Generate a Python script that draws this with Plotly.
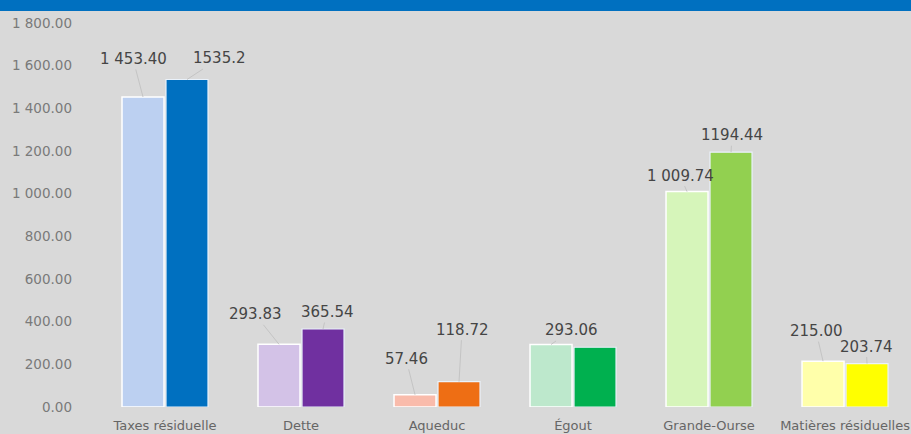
import plotly.graph_objects as go

categories = ["Taxes résiduelle", "Dette", "Aqueduc", "Égout", "Grande-Ourse", "Matières résiduelles"]
values_a = [1453.40, 293.83, 57.46, 293.06, 1009.74, 215.00]
values_b = [1535.20, 365.54, 118.72, 280.00, 1194.44, 203.74]
labels_a = ["1 453.40", "293.83", "57.46", "293.06", "1 009.74", "215.00"]
labels_b = ["1535.2", "365.54", "118.72", "", "1194.44", "203.74"]
y_ticks = [0, 200, 400, 600, 800, 1000, 1200, 1400, 1600, 1800]

colors_a = ["#BCD0F1", "#D3C2E7", "#F9BBAB", "#BDE8CC", "#D6F5BA", "#FFFFAA"]
colors_b = ["#0070C0", "#7030A0", "#EE6E14", "#00B04F", "#92D050", "#FFFF00"]

# label offsets (pixels) from the bar top: (ax, ay)
off_a = [(-10, -38), (-24, -30), (-9, -36), (20, -14), (-7, -16), (-7, -30)]
off_b = [(32, -21), (4, -17), (3, -52), (0, -20), (1, -17), (-1, -17)]

fig = go.Figure()
fig.add_trace(go.Bar(x=categories, y=values_a, marker=dict(color=colors_a, line=dict(color="white", width=1.5)),
                     showlegend=False))
fig.add_trace(go.Bar(x=categories, y=values_b, marker=dict(color=colors_b, line=dict(color="#EAF2FB", width=1.2)),
                     showlegend=False))

shift = 22
for i, c in enumerate(categories):
    for vals, labs, offs, sx in ((values_a, labels_a, off_a, -shift), (values_b, labels_b, off_b, shift)):
        if not labs[i]:
            continue
        fig.add_annotation(x=c, y=vals[i], xshift=sx, text=labs[i], showarrow=True, arrowhead=0,
                           arrowwidth=1, arrowcolor="#C4C4C4", ax=offs[i][0], ay=offs[i][1],
                           font=dict(family="DejaVu Sans", size=15, color="#454545"))

fig.add_shape(type="rect", xref="paper", yref="paper", x0=-0.2, x1=1.1, yanchor=1, ysizemode="pixel",
              y0=12, y1=40, fillcolor="#0070C0", line=dict(width=0), layer="above")

fig.update_layout(
    width=911, height=434,
    margin=dict(l=97, r=0, t=23, b=27),
    paper_bgcolor="#D9D9D9", plot_bgcolor="#D9D9D9",
    separators=". ",
    barmode="group", bargap=0.353, bargroupgap=0.045,
    font=dict(family="DejaVu Sans", color="#595959"),
)
fig.update_xaxes(range=[-0.5, 5.485], showgrid=False, zeroline=False, showline=False, ticks="",
                 tickfont=dict(family="DejaVu Sans", size=13, color="#666666"), automargin=False,
                 ticklabelstandoff=9)
fig.update_yaxes(range=[0, 1800], tickvals=y_ticks, tickformat=",.2f", showgrid=False, zeroline=False,
                 showline=False, ticks="", tickfont=dict(family="DejaVu Sans", size=13.5, color="#7A7A7A"),
                 automargin=False, ticklabelstandoff=24)

fig.write_html("out.html", config={"displayModeBar": False},
               post_script="document.body.style.margin='0';document.body.style.overflow='hidden';")
